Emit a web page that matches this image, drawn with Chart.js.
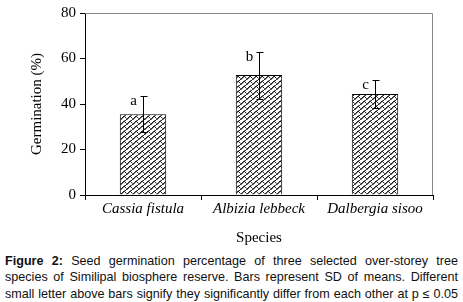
<!DOCTYPE html>
<html>
<head>
<meta charset="utf-8">
<script src="https://cdn.jsdelivr.net/npm/chart.js@4"></script>
<style>
html,body{margin:0;padding:0;background:#fff;}
#wrap{position:relative;width:463px;height:302px;overflow:hidden;}
#c{position:absolute;left:0;top:0;}
#cap{position:absolute;left:5px;top:253px;width:453px;font-family:"Liberation Sans",Arial,sans-serif;font-size:12.6px;line-height:16.3px;color:#111;}
#cap span{display:block;text-align:justify;text-align-last:justify;white-space:nowrap;}
</style>
</head>
<body>
<div id="wrap">
<canvas id="c" width="463" height="250"></canvas>
<div id="cap"><span><b>Figure 2:</b> Seed germination percentage of three selected over-storey tree</span><span>species of Similipal biosphere reserve. Bars represent SD of means. Different</span><span>small letter above bars signify they significantly differ from each other at p ≤ 0.05</span></div>
</div>
<script>
const categories = ["Cassia fistula", "Albizia lebbeck", "Dalbergia sisoo"];
const germination = [35.5, 52.7, 44.4];
const sd = [8.0, 10.3, 6.2];
const letters = ["a", "b", "c"];
const yTicks = [0, 20, 40, 60, 80];

function makePattern(){
  const t = document.createElement('canvas');
  t.width = 6; t.height = 5;
  const g = t.getContext('2d');
  g.fillStyle = '#fff'; g.fillRect(0,0,6,5);
  g.fillStyle = '#222';
  const px = [[0,4],[1,3],[2,2],[3,1],[4,1],[5,2],[5,0]];
  px.forEach(p=>g.fillRect(p[0],p[1],1,1));
  g.fillStyle = '#777';
  [[1,4],[2,3],[3,2],[4,0],[0,3]].forEach(p=>g.fillRect(p[0],p[1],1,1));
  return document.getElementById('c').getContext('2d').createPattern(t,'repeat');
}

const extras = {
  id: 'extras',
  afterDatasetsDraw(chart){
    const {ctx, chartArea:a, scales:{x,y}} = chart;
    ctx.save();
    ctx.strokeStyle = '#888'; ctx.lineWidth = 1;
    ctx.beginPath();
    ctx.moveTo(a.left, a.top+0.5); ctx.lineTo(a.right-0.5, a.top+0.5); ctx.lineTo(a.right-0.5, a.bottom);
    ctx.stroke();
    ctx.strokeStyle = '#000';
    ctx.fillStyle = '#000';
    ctx.font = '15px "Liberation Serif", "Times New Roman", serif';
    ctx.textAlign = 'center'; ctx.textBaseline = 'alphabetic';
    germination.forEach((v,i)=>{
      const cx = Math.round(x.getPixelForValue(i))+0.5;
      const yt = Math.round(y.getPixelForValue(v+sd[i]))+0.5;
      const yb = Math.round(y.getPixelForValue(v-sd[i]))+0.5;
      ctx.beginPath();
      ctx.moveTo(cx, yt); ctx.lineTo(cx, yb);
      ctx.moveTo(cx-3, yt); ctx.lineTo(cx+4, yt);
      ctx.moveTo(cx-3, yb); ctx.lineTo(cx+4, yb);
      ctx.stroke();
      ctx.fillText(letters[i], cx-10, yt+8);
    });
    ctx.restore();
  }
};

new Chart(document.getElementById('c'), {
  type: 'bar',
  data: {
    labels: categories,
    datasets: [{
      data: germination,
      backgroundColor: makePattern(),
      borderColor: '#000',
      borderWidth: 1,
      categoryPercentage: 1,
      barPercentage: 0.4
    }]
  },
  options: {
    responsive: false,
    animation: false,
    devicePixelRatio: 1,
    layout: {padding: {left: 28, right: 30, top: 6, bottom: 3}},
    plugins: {legend: {display: false}, tooltip: {enabled: false}},
    scales: {
      x: {
        grid: {display: true, drawOnChartArea: false, drawTicks: true, tickLength: 5, color: '#000', offset: true},
        border: {display: true, color: '#000', width: 1},
        ticks: {color: '#000', padding: 0, font: {family: '"Liberation Serif", "Times New Roman", serif', size: 15, style: 'italic'}},
        title: {display: true, text: 'Species', color: '#000', padding: {top: 4, bottom: 0}, font: {family: '"Liberation Serif", "Times New Roman", serif', size: 15}},
        afterFit(s){ s.height = 52; }
      },
      y: {
        min: 0, max: 80,
        afterBuildTicks(s){ s.ticks = yTicks.map(v=>({value: v})); },
        grid: {display: true, drawOnChartArea: false, drawTicks: true, tickLength: 5, color: '#000'},
        border: {display: true, color: '#000', width: 1},
        ticks: {color: '#000', padding: 4, font: {family: '"Liberation Serif", "Times New Roman", serif', size: 15}},
        title: {display: true, text: 'Germination (%)', color: '#000', padding: {top: 0, bottom: 0}, font: {family: '"Liberation Serif", "Times New Roman", serif', size: 15}},
        afterFit(s){ s.width = 57; }
      }
    }
  },
  plugins: [extras]
});
</script>
</body>
</html>
